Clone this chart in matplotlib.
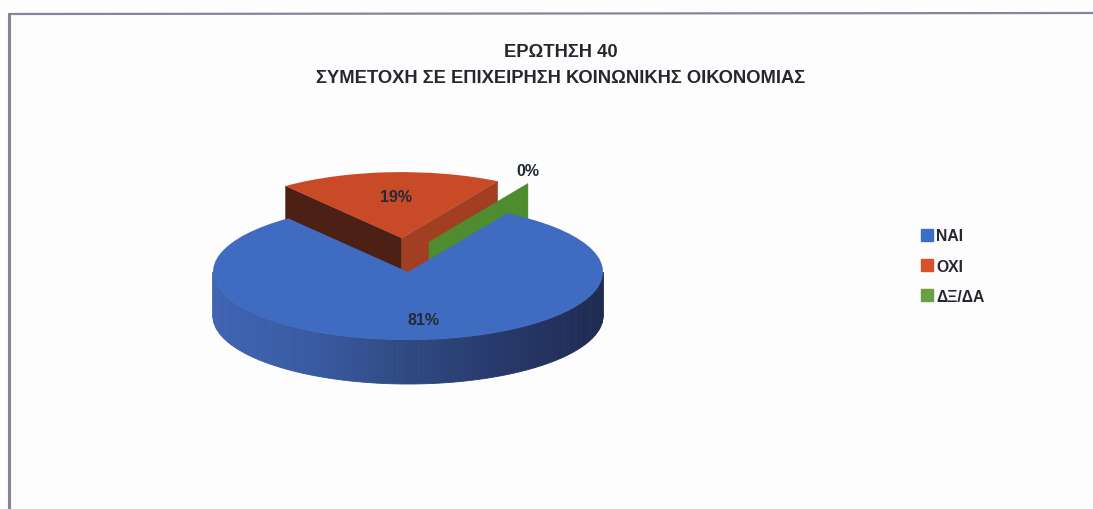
import matplotlib
matplotlib.use('Agg')
import matplotlib.pyplot as plt
from matplotlib.colors import LinearSegmentedColormap
import numpy as np

plt.rcParams['font.family'] = ['Liberation Sans', 'DejaVu Sans']

title_lines = ['ΕΡΩΤΗΣΗ 40', 'ΣΥΜΕΤΟΧΗ ΣΕ ΕΠΙΧΕΙΡΗΣΗ ΚΟΙΝΩΝΙΚΗΣ ΟΙΚΟΝΟΜΙΑΣ']
categories = ['ΝΑΙ', 'ΟΧΙ', 'ΔΞ/ΔΑ']
values = [81, 19, 0]

top_colors = ['#3f6bc0', '#c94a27', '#4f8c30']
legend_colors = ['#3a6fc8', '#d9502c', '#6a9f45']

W, H = 1093, 510
# pie ellipse in pixels
cx, cy, rx, ry = 408, 273, 195, 68
depth = 44 / ry
lim = 2.2

fig = plt.figure(figsize=(W / 100, H / 100), dpi=100, facecolor='#fdfdfd')

ax = fig.add_axes([(cx - lim * rx) / W, 1 - (cy + lim * ry) / H, 2 * lim * rx / W, 2 * lim * ry / H])
wedges, _ = ax.pie(values, startangle=59.5, counterclock=False, colors=top_colors,
                   explode=[0, 0.5, 0], radius=1)
ax.set_aspect('auto')
ax.set_xlim(-lim, lim)
ax.set_ylim(-lim, lim)
ax.axis('off')

blue, red, green = wedges
blue.set_zorder(10)
red.set_zorder(3)
red.set_radius(0.97)
green.set_visible(False)


def rim(center, r, angle):
    a = np.radians(angle)
    return np.array([center[0] + r * np.cos(a), center[1] + r * np.sin(a)])


def wall(center, r, angle, color, z):
    p = rim(center, r, angle)
    xs = [center[0], p[0], p[0], center[0]]
    ys = [center[1], p[1], p[1] - depth, center[1] - depth]
    ax.fill(xs, ys, color=color, lw=0.3, zorder=z)


# red slice walls
wall(red.center, 0.97, red.theta2, '#4d2015', 1)
wall(red.center, 0.97, red.theta1, '#a23f22', 2)

# the 0% slice only shows its wall, drawn in front of the red one
green_apex = ((429 - cx) / rx, (cy - 243) / ry)
wall(green_apex, 1, green.theta1, top_colors[2], 4)

# blue outer wall, colour runs dark towards the right
shade = LinearSegmentedColormap.from_list('side', ['#3f64b2', '#3a5ba3', '#2f4a80', '#27386a', '#1e2b52'])
edges = np.linspace(180, 360, 121)
for i in range(120):
    t = np.linspace(edges[i], edges[i + 1], 3)
    x = np.cos(np.radians(t))
    y = np.sin(np.radians(t))
    c = shade((x.mean() + 1) / 2)
    ax.fill(np.r_[x, x[::-1]], np.r_[y, y[::-1] - depth], color=c, lw=0.6, zorder=5)

# overlay in pixel coordinates
ov = fig.add_axes([0, 0, 1, 1], facecolor='none')
ov.set_xlim(0, W)
ov.set_ylim(H, 0)
ov.axis('off')

frame = '#85859a'
ov.plot([9, 9], [H, 15], color=frame, lw=2.2, solid_capstyle='butt')
ov.plot([8, W], [15, 14], color=frame, lw=1.6, solid_capstyle='butt')

ov.text(561, 52.5, title_lines[0], ha='center', va='center', fontsize=13.2, fontweight='bold', color='#26262e')
ov.text(561, 78.5, title_lines[1], ha='center', va='center', fontsize=13.2, fontweight='bold', color='#26262e')

label_pos = [(423, 321), (396, 198), (528, 172)]
for v, (lx, ly) in zip(values, label_pos):
    ov.text(lx, ly, '%d%%' % v, ha='center', va='center', fontsize=11.5, fontweight='bold', color='#252a3a')

handles = [plt.Rectangle((0, 0), 1, 1, color=c) for c in legend_colors]
fig.legend(handles, categories, loc='center left', bbox_to_anchor=(907 / W, 1 - 267 / H), frameon=False,
           handlelength=0.76, handleheight=0.76, handletextpad=0.2, labelspacing=0.97,
           prop={'size': 11.3, 'weight': 'bold'}, labelcolor='#26262e')

fig.savefig('out.png', dpi=100, facecolor=fig.get_facecolor())
